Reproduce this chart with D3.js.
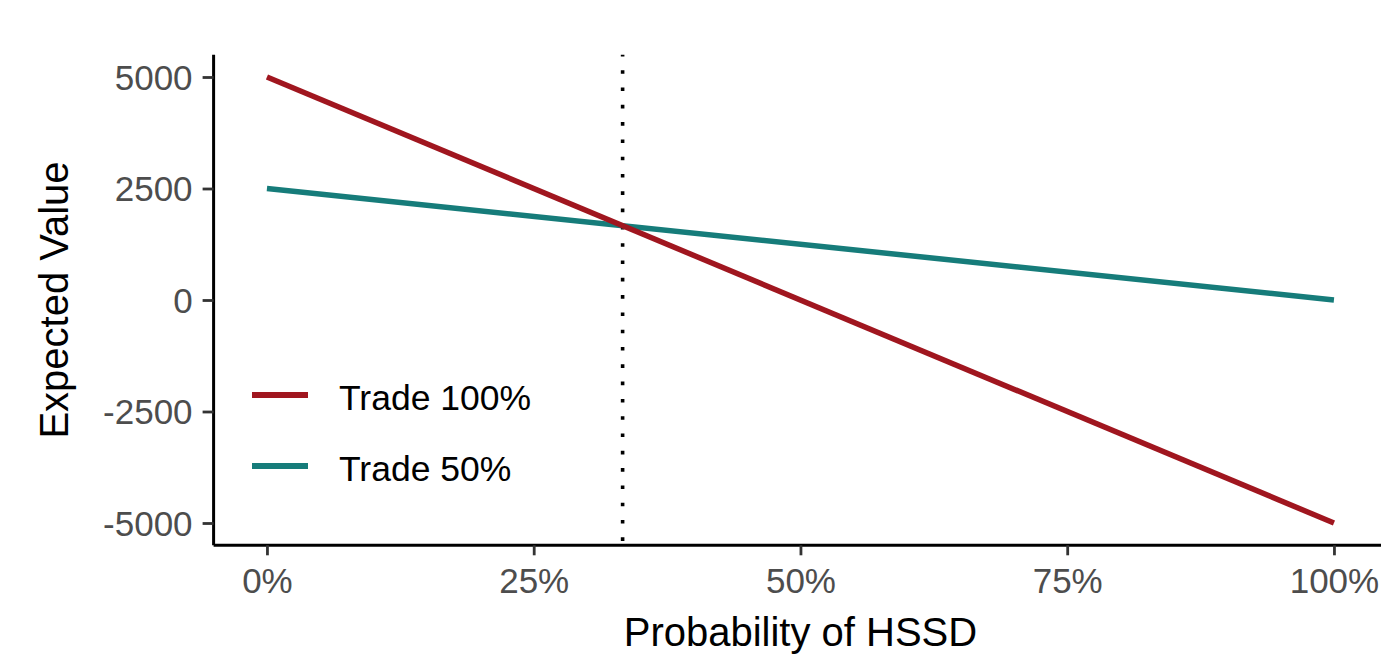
<!DOCTYPE html>
<html><head><meta charset="utf-8">
<script src="https://cdn.jsdelivr.net/npm/d3@7"></script>
<style>html,body{margin:0;padding:0;background:#fff;}svg{display:block;}</style>
</head><body>
<svg id="chart" width="1381" height="655"></svg>
<script>
const probs = [0, 1];
const trade100 = [5000, -5000];
const trade50 = [2500, 0];
const seriesNames = ["Trade 100%", "Trade 50%"];
const seriesColors = ["#a0161f", "#167c7a"];
const yTicks = [5000, 2500, 0, -2500, -5000];
const xTicks = [0, 0.25, 0.5, 0.75, 1];
const threshold = 1/3;

const svg = d3.select("#chart");
const x = d3.scaleLinear().domain([-0.05, 1.05]).range([213.6, 1387.3]);
const y = d3.scaleLinear().domain([-5500, 5500]).range([545.3, 54.7]);
const font = "'Liberation Sans', Arial, sans-serif";

// dotted threshold
svg.append("line")
  .attr("x1", x(threshold)).attr("x2", x(threshold))
  .attr("y1", y(5500)).attr("y2", y(-5500))
  .attr("stroke", "#000").attr("stroke-width", 3.6)
  .attr("stroke-dasharray", "3.6,13.7").attr("stroke-dashoffset", 1.8);

const series = [trade50, trade100];
const cols = [seriesColors[1], seriesColors[0]];
const line = d3.line().x((d, i) => x(probs[i])).y(d => y(d));
series.forEach((s, k) => {
  svg.append("path").datum(s).attr("d", line)
    .attr("fill", "none").attr("stroke", cols[k]).attr("stroke-width", 5.5);
});

// axes
const yAxis = svg.append("g").attr("transform", `translate(${x(-0.05)},0)`)
  .call(d3.axisLeft(y).tickValues(yTicks).tickSize(11).tickPadding(10).tickFormat(d => String(d)));
const xAxis = svg.append("g").attr("transform", `translate(0,${y(-5500)})`)
  .call(d3.axisBottom(x).tickValues(xTicks).tickSize(10).tickPadding(6).tickFormat(d3.format(".0%")));
[yAxis, xAxis].forEach(g => {
  g.select(".domain").attr("stroke", "#000").attr("stroke-width", 3);
  g.selectAll(".tick line").attr("stroke", "#333").attr("stroke-width", 2.8);
  g.selectAll(".tick text").attr("fill", "#4d4d4d").style("font-family", font).style("font-size", "35px");
});
xAxis.selectAll(".tick text").attr("y", 48).attr("dy", 0);
yAxis.selectAll(".tick text").attr("dy", "0.35em");
yAxis.select(".domain").attr("d", `M0,${y(5500)}V${y(-5500)}`);
xAxis.select(".domain").attr("d", `M${x(-0.05)},0H1381`);

// titles
svg.append("text").attr("x", (x(-0.05) + x(1.05)) / 2).attr("y", 646).attr("text-anchor", "middle")
  .style("font-family", font).style("font-size", "40px").attr("fill", "#000")
  .text("Probability of HSSD");
svg.append("text").attr("transform", `translate(68,${y(0)}) rotate(-90)`).attr("text-anchor", "middle")
  .style("font-family", font).style("font-size", "40px").attr("fill", "#000")
  .text("Expected Value");

// legend
const legY = [395, 466];
seriesNames.forEach((n, i) => {
  svg.append("line").attr("x1", 252).attr("x2", 308).attr("y1", legY[i]).attr("y2", legY[i])
    .attr("stroke", seriesColors[i]).attr("stroke-width", 6);
  svg.append("text").attr("x", 339).attr("y", legY[i] + 14.5)
    .style("font-family", font).style("font-size", "35.5px").attr("fill", "#000").text(n);
});
</script>
</body></html>
